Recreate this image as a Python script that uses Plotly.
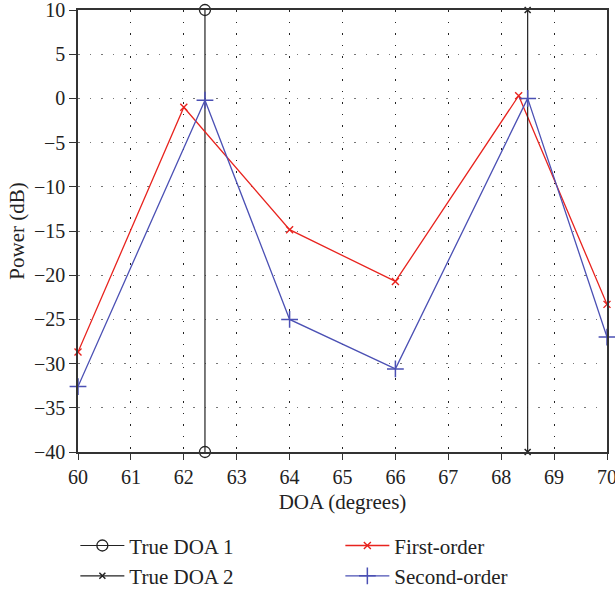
import plotly.graph_objects as go

doa_true = [62.4, 68.5]
y_span = [-40, 10]

first_x = [60, 62, 64, 66, 68.33, 70]
first_y = [-28.7, -1.0, -14.85, -20.7, 0.3, -23.3]

second_x = [60, 62.4, 64, 66, 68.5, 70]
second_y = [-32.6, -0.2, -25.0, -30.6, 0.0, -27.0]

x_ticks = list(range(60, 71))
y_ticks = list(range(-40, 11, 5))

RED = "#e8231e"
BLUE = "#4b50b4"
FONT = "Liberation Serif"

fig = go.Figure()

fig.add_trace(go.Scatter(
    x=[doa_true[0], doa_true[0]], y=y_span, mode="lines+markers",
    name="True DOA 1", line=dict(color="#222222", width=1.2),
    marker=dict(symbol="circle-open", size=11, color="#222222", line=dict(width=1.3)),
    cliponaxis=False))
fig.add_trace(go.Scatter(
    x=first_x, y=first_y, mode="lines+markers", name="First-order",
    line=dict(color=RED, width=1.3),
    marker=dict(symbol="x-thin", size=7, color=RED, line=dict(width=1.4, color=RED)),
    cliponaxis=False))
fig.add_trace(go.Scatter(
    x=[doa_true[1], doa_true[1]], y=y_span, mode="lines+markers",
    name="True DOA 2", line=dict(color="#222222", width=1.2),
    marker=dict(symbol="x-thin", size=6, color="#222222", line=dict(width=1.5, color="#222222")),
    cliponaxis=False))
fig.add_trace(go.Scatter(
    x=second_x, y=second_y, mode="lines+markers", name="Second-order",
    line=dict(color=BLUE, width=1.3),
    marker=dict(symbol="cross-thin", size=12, color=BLUE, line=dict(width=1.5, color=BLUE)),
    cliponaxis=False))

fig.update_layout(
    width=615, height=592,
    margin=dict(l=78, r=8, t=10, b=140, autoexpand=False),
    paper_bgcolor="white", plot_bgcolor="white",
    font=dict(family=FONT, size=20, color="#222222"),
    showlegend=True,
    legend=dict(orientation="h", x=-0.005, xanchor="left", y=-0.166, yanchor="top",
                entrywidth=206, entrywidthmode="pixels", traceorder="normal",
                font=dict(family=FONT, size=21), itemwidth=44,
                tracegroupgap=0, bgcolor="rgba(0,0,0,0)"),
)

fig.update_xaxes(
    range=[60, 70], tickvals=x_ticks, ticks="outside", ticklen=6, tickwidth=1.2,
    tickcolor="#333333", showline=True, linecolor="#333333", linewidth=1.5, mirror=True,
    showgrid=True, gridcolor="#222222", griddash="1.5px,10px", gridwidth=1.2,
    zeroline=False, automargin=False, ticklabeloverflow="allow",
    title=dict(text="DOA (degrees)", font=dict(size=21), standoff=8),
    tickfont=dict(size=20))
fig.update_yaxes(
    range=[-40, 10], tickvals=y_ticks, ticktext=[str(v).replace("-", "\u2212") for v in y_ticks],
    ticks="outside", ticklen=7, tickwidth=1.2,
    tickcolor="#333333", showline=True, linecolor="#333333", linewidth=1.5, mirror=True,
    showgrid=True, gridcolor="#777777", griddash="1.5px,10px", gridwidth=1.2,
    zeroline=False, automargin=False, ticklabeloverflow="allow",
    title=dict(text="Power (dB)", font=dict(size=21), standoff=4),
    tickfont=dict(size=20))

fig.write_html("out.html")
